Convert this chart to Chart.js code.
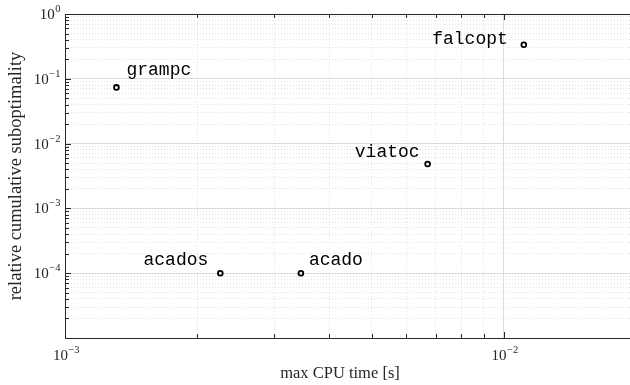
<!DOCTYPE html>
<html>
<head>
<meta charset="utf-8">
<script src="https://cdn.jsdelivr.net/npm/chart.js@4/dist/chart.umd.min.js"></script>
<style>
  html, body { margin: 0; padding: 0; background: #ffffff; overflow: hidden; }
  #wrap { width: 630px; height: 385px; position: relative; overflow: hidden; }
  canvas { display: block; }
</style>
</head>
<body>
<div id="wrap"><canvas id="c" width="635" height="385"></canvas></div>
<script>
// ---- data ----
const solvers = ["grampc", "acados", "acado", "viatoc", "falcopt"];
const maxCpuTime = [0.00131, 0.00226, 0.00345, 0.00671, 0.01112];
const relSubopt = [0.0737, 0.0001, 0.0001, 0.00484, 0.336];

// ---- axis ticks ----
const xMajorTicks = [0.001, 0.01];
const yMajorTicks = [1e-5, 1e-4, 1e-3, 1e-2, 1e-1, 1];
const xTickLabels = [{ v: 0.001, exp: "-3" }, { v: 0.01, exp: "-2" }];
const yTickLabels = [{ v: 1e-4, exp: "-4" }, { v: 1e-3, exp: "-3" }, { v: 1e-2, exp: "-2" }, { v: 1e-1, exp: "-1" }, { v: 1, exp: "0" }];
const minorMultipliers = [2, 3, 4, 5, 6, 7, 8, 9];
const xRange = [0.001, 0.0195];
const yRange = [1e-5, 1];

function buildTicks(majors, lo, hi) {
  const out = [];
  majors.forEach(m => {
    out.push({ value: m, major: true });
    minorMultipliers.forEach(k => {
      const v = m * k;
      if (v < hi * 0.999 && v > lo) out.push({ value: v, major: false });
    });
  });
  return out.filter(t => t.value >= lo * 0.999 && t.value <= hi * 1.001);
}

// label placement (pixel offsets relative to the point, style only)
const labelPlacement = [
  { dx: 10, dy: -12, align: "left" },
  { dx: -12, dy: -8, align: "right" },
  { dx: 8, dy: -8, align: "left" },
  { dx: -8, dy: -7, align: "right" },
  { dx: -16, dy: -1, align: "right" }
];

const AX = "#262626";
const serif = "'Liberation Serif', 'DejaVu Serif', serif";

const decorPlugin = {
  id: "decor",
  afterDraw(chart) {
    const ctx = chart.ctx;
    const a = chart.chartArea;
    const xs = chart.scales.x, ys = chart.scales.y;
    const right = chart.width;
    ctx.save();
    ctx.strokeStyle = AX;
    ctx.lineWidth = 1;
    // box (left, bottom, top)
    ctx.beginPath();
    ctx.moveTo(a.left + 0.5, a.top + 0.5);
    ctx.lineTo(a.left + 0.5, a.bottom + 0.5);
    ctx.lineTo(right, a.bottom + 0.5);
    ctx.moveTo(a.left + 0.5, a.top + 0.5);
    ctx.lineTo(right, a.top + 0.5);
    ctx.stroke();
    // inner ticks
    ctx.beginPath();
    xs.ticks.forEach(t => {
      const px = Math.round(xs.getPixelForValue(t.value)) + 0.5;
      const L = t.major ? 6 : 4;
      ctx.moveTo(px, a.bottom); ctx.lineTo(px, a.bottom - L);
      ctx.moveTo(px, a.top); ctx.lineTo(px, a.top + L);
    });
    ys.ticks.forEach(t => {
      const py = Math.round(ys.getPixelForValue(t.value)) + 0.5;
      const L = t.major ? 6 : 4;
      ctx.moveTo(a.left, py); ctx.lineTo(a.left + L, py);
    });
    ctx.stroke();

    // tick labels with superscripts
    ctx.fillStyle = AX;
    ctx.textBaseline = "alphabetic";
    function powLabel(x, y, exp, align) {
      ctx.font = "15px " + serif;
      const wb = ctx.measureText("10").width;
      ctx.font = "10.5px " + serif;
      const expTxt = exp.replace("-", "\u2212");
      const we = ctx.measureText(expTxt).width;
      let x0;
      if (align === "center") x0 = x - (wb + we) / 2;
      else x0 = x - (wb + we);
      ctx.textAlign = "left";
      ctx.font = "15px " + serif;
      ctx.fillText("10", x0, y);
      ctx.font = "10.5px " + serif;
      ctx.fillText(expTxt, x0 + wb + 0.5, y - 7);
    }
    xTickLabels.forEach(t => {
      powLabel(xs.getPixelForValue(t.v) + 1, a.bottom + 22, t.exp, "center");
    });
    yTickLabels.forEach(t => {
      powLabel(a.left - 5, ys.getPixelForValue(t.v) + 5, t.exp, "right");
    });

    // axis titles
    ctx.font = "16.5px " + serif;
    ctx.textAlign = "center";
    ctx.fillText("max CPU time [s]", 340, 378);
    ctx.save();
    ctx.translate(21, (a.top + a.bottom) / 2);
    ctx.rotate(-Math.PI / 2);
    ctx.font = "18.5px " + serif;
    ctx.fillText("relative cumulative suboptimality", 0, 0);
    ctx.restore();

    // point labels
    ctx.font = "18px 'Liberation Mono', 'DejaVu Sans Mono', monospace";
    ctx.fillStyle = "#000000";
    const meta = chart.getDatasetMeta(0);
    meta.data.forEach((pt, i) => {
      const p = labelPlacement[i];
      ctx.textAlign = p.align;
      ctx.fillText(solvers[i], pt.x + p.dx, pt.y + p.dy);
    });
    ctx.restore();
  }
};

const chart = new Chart(document.getElementById("c"), {
  type: "scatter",
  data: {
    datasets: [{
      label: "solvers",
      data: maxCpuTime.map((x, i) => ({ x: x, y: relSubopt[i] })),
      pointRadius: 2.4,
      pointHoverRadius: 2.4,
      borderWidth: 1.8,
      pointBorderColor: "#000000",
      pointBackgroundColor: "rgba(255,255,255,0)",
      showLine: false
    }]
  },
  options: {
    responsive: false,
    animation: false,
    events: [],
    layout: { padding: { top: 14, right: 0, left: 0, bottom: 0 } },
    plugins: { legend: { display: false }, tooltip: { enabled: false } },
    scales: {
      x: {
        type: "logarithmic",
        min: xRange[0], max: xRange[1],
        afterBuildTicks: s => { s.ticks = buildTicks(xMajorTicks, xRange[0], xRange[1]); },
        afterFit: s => { s.height = 47; },
        ticks: { display: false },
        border: { display: false, dash: c => (c.tick && !c.tick.major) ? [1, 2] : [] },
        grid: {
          drawTicks: false,
          color: c => (c.tick && c.tick.major) ? "#dadada" : "#e2e2e2",
          lineWidth: 1
        }
      },
      y: {
        type: "logarithmic",
        min: yRange[0], max: yRange[1],
        afterBuildTicks: s => { s.ticks = buildTicks(yMajorTicks, yRange[0], yRange[1]); },
        afterFit: s => { s.width = 65; },
        ticks: { display: false },
        border: { display: false, dash: c => (c.tick && !c.tick.major) ? [1, 2] : [] },
        grid: {
          drawTicks: false,
          color: c => (c.tick && c.tick.major) ? "#dadada" : "#e2e2e2",
          lineWidth: 1
        }
      }
    }
  },
  plugins: [decorPlugin]
});
</script>
</body>
</html>
